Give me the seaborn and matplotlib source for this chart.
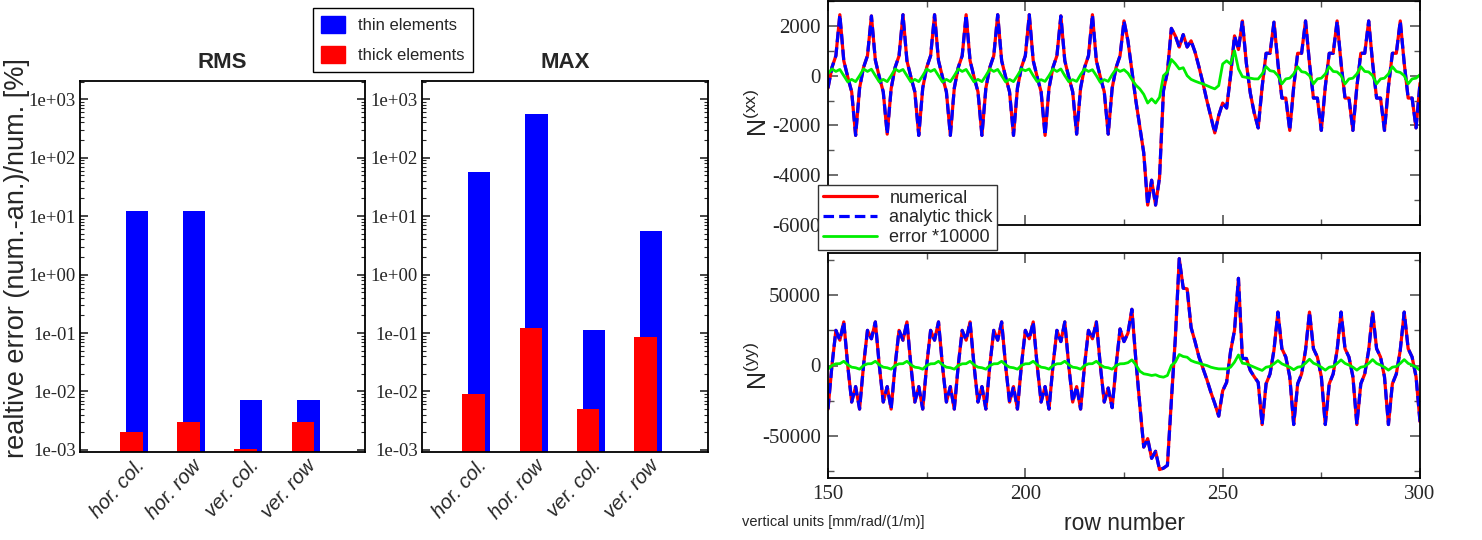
import numpy as np
import pandas as pd
import matplotlib
matplotlib.use("Agg")
import matplotlib.pyplot as plt
import matplotlib.ticker as mticker
import matplotlib.transforms as mtransforms
from matplotlib.lines import Line2D
from matplotlib.patches import Patch
import seaborn as sns

# ---- relative error of the two element models (percent) ----
cases = ["hor. col.", "hor. row", "ver. col.", "ver. row"]
rms_thin = [12.2, 12.2, 0.0072, 0.0072]
rms_thick = [0.00205, 0.00303, 0.00104, 0.00303]
max_thin = [55.7, 547.0, 0.112, 5.6]
max_thick = [0.0091, 0.122, 0.0051, 0.0865]

# ---- row-wise response, rows 150..300 ----
rows = list(range(150, 301))

nxx_numerical = [
    -500, 330, 800, 2450, 600, -50, -650, -2400,
    -500, 330, 800, 2400, 620, -50, -650, -2350,
    -520, 330, 800, 2450, 600, -50, -650, -2400,
    -500, 330, 800, 2450, 600, -50, -650, -2400,
    -500, 330, 800, 2450, 600, -50, -650, -2400,
    -500, 330, 800, 2450, 600, -50, -650, -2400,
    -500, 330, 800, 2450, 600, -50, -650, -2400,
    -500, 330, 800, 2400, 600, -50, -650, -2350,
    -500, 330, 800, 2450, 600, -50, -650, -2350,
    -500, 330, 800, 2200, 1400, 200, -1000, -2050,
    -3100, -5200, -4200, -5200, -4100, -600, 150, 1900,
    1600, 1150, 1650, 1150, 1400, 950, 350, -300,
    -1000, -1650, -2300, -1600, -1100, -1300, 0, 1600,
    1050, 2200, 500, -700, -1500, -2100, -450, 900,
    900, 2150, 500, -900, -900, -2200, -450, 900,
    900, 2200, 500, -900, -900, -2200, -450, 900,
    900, 2200, 500, -900, -900, -2200, -450, 900,
    900, 2200, 500, -900, -900, -2200, -450, 900,
    900, 2200, 500, -900, -900, -2100, -300,
]

# (numerical - analytic) * 10000
nxx_error = [
    80, 270, 170, 250, 0, -250, -150, -240,
    0, 270, 170, 260, 0, -250, -150, -240,
    0, 270, 170, 250, 0, -250, -150, -240,
    0, 270, 170, 250, 0, -250, -150, -240,
    0, 270, 170, 250, 0, -250, -150, -240,
    0, 270, 170, 250, 0, -250, -150, -240,
    0, 270, 200, 270, 0, -240, -160, -230,
    0, 270, 170, 270, 0, -240, -160, -230,
    40, 270, 170, 240, 0, -270, -160, -230,
    40, 270, 170, 240, 100, -150, -380, -530,
    -750, -1100, -930, -1100, -870, 0, 150, 650,
    480, 270, 320, 0, -150, -220, -280, -330,
    -400, -470, -530, -400, 470, 600, 470, 1000,
    270, -40, -70, -100, -130, -130, 70, 360,
    200, 170, 0, -330, -130, -100, 70, 360,
    160, 130, 0, -330, -130, -100, 70, 360,
    170, 150, 0, -330, -130, -100, 70, 360,
    170, 150, 0, -330, -130, -100, 70, 360,
    170, 130, 0, -330, -130, -100, 40,
]

nyy_numerical = [
    -31000, 0, 25000, 18000, 31000, 0, -26000, -15000,
    -31000, 0, 25000, 19000, 31000, 0, -26000, -15000,
    -31000, 0, 25000, 18000, 31000, 0, -26000, -15000,
    -31000, 0, 25000, 18000, 31000, 0, -26000, -15000,
    -31000, 0, 25000, 18000, 31000, 0, -26000, -15000,
    -31000, 0, 25000, 18000, 31000, 0, -26000, -15000,
    -31000, 0, 25000, 19000, 31000, 0, -26000, -15000,
    -31000, 0, 25000, 17000, 31000, 0, -26000, -15000,
    -31000, 0, 25000, 19000, 31000, 0, -26000, -16000,
    -30000, 0, 26000, 17000, 23000, 40000, 4000, -28000,
    -58000, -52000, -66000, -61000, -74000, -73000, -71000, -25000,
    19000, 76000, 55000, 54500, 27000, 17000, 6000, -2000,
    -10000, -19000, -27000, -36000, -18000, -12000, 10000, 25000,
    62000, 5000, 5000, -3500, -8000, -12000, -42000, -13000,
    -6000, 11000, 38000, 12000, 6000, -8000, -42000, -13000,
    -6000, 11000, 38000, 12000, 6000, -8000, -42000, -13000,
    -6000, 11000, 38000, 12000, 6000, -8000, -42000, -13000,
    -6000, 11000, 38000, 12000, 6000, -8000, -42000, -13000,
    -6000, 11000, 38000, 12000, 6000, -8000, -40000,
]

nyy_error = [
    -2600, 0, 1200, 1300, 3000, 500, -1200, -1600,
    -2600, 0, 1200, 1300, 3000, 500, -1200, -1600,
    -2600, 0, 1200, 1300, 3000, 500, -1200, -1600,
    -2600, 0, 1200, 1300, 3000, 500, -1200, -1600,
    -2600, 0, 1200, 1300, 3000, 500, -1200, -1600,
    -2600, 0, 1200, 1300, 3000, 500, -1200, -1600,
    -2600, 0, 1200, 1300, 3000, 500, -1200, -1600,
    -2600, 0, 1200, 1300, 3000, 500, -1200, -1600,
    -2600, 0, 1200, 1300, 3000, 500, -1200, -1600,
    -2600, 0, 1200, 1300, 2000, 4000, 500, -4000,
    -5900, -6400, -7100, -6600, -7800, -8300, -7100, 0,
    2400, 7800, 6400, 5900, 3500, 2400, 1650, 700,
    0, -1200, -1900, -2400, -2400, -2400, -1200, 2400,
    7500, 1650, 1200, 0, -1200, -2400, -3500, -1200,
    -700, 1200, 3500, 1200, 0, -1200, -3000, -1200,
    -700, 1650, 4500, 1650, 500, -1200, -3300, -1200,
    -700, 1500, 4000, 1500, 300, -1200, -3300, -1200,
    -700, 1500, 4200, 1500, 300, -1200, -3300, -1200,
    -700, 1500, 4200, 1500, 300, -1200, -3300,
]

ERROR_SCALE = 10000.0
# analytic solution recovered from numerical result and the scaled error
nxx_analytic = [n - e / ERROR_SCALE for n, e in zip(nxx_numerical, nxx_error)]
nyy_analytic = [n - e / ERROR_SCALE for n, e in zip(nyy_numerical, nyy_error)]

# ---- styling ----
sns.set_theme(style="ticks")
plt.rcParams["font.family"] = ["Liberation Sans", "DejaVu Sans"]
plt.rcParams["axes.unicode_minus"] = False
plt.rcParams["axes.linewidth"] = 1.3
plt.rcParams["axes.edgecolor"] = "black"
plt.rcParams["mathtext.fontset"] = "custom"
plt.rcParams["mathtext.rm"] = "Liberation Sans"
plt.rcParams["mathtext.it"] = "Liberation Sans"

SERIF = "Liberation Serif"
BLUE, RED, GREEN = "#0000ff", "#ff0000", "#00ee00"

W, H = 1482, 540
fig = plt.figure(figsize=(W / 100, H / 100), dpi=100)


def axes_px(left, top, right, bottom):
    return fig.add_axes([left / W, 1 - bottom / H, (right - left) / W, (bottom - top) / H])


# ---- bar panels ----
ax_rms = axes_px(80, 81, 365, 452)
ax_max = axes_px(422, 81, 708, 452)

decades = [1e-3, 1e-2, 1e-1, 1e0, 1e1, 1e2, 1e3]
for ax, thin, thick, title in ((ax_rms, rms_thin, rms_thick, "RMS"),
                               (ax_max, max_thin, max_thick, "MAX")):
    sns.barplot(x=cases, y=thin, color=BLUE, saturation=1, width=0.39,
                errorbar=None, linewidth=0, ax=ax)
    n_thin = len(ax.patches)
    sns.barplot(x=cases, y=thick, color=RED, saturation=1, width=0.39,
                errorbar=None, linewidth=0, ax=ax)
    for i, patch in enumerate(ax.patches):
        patch.set_x(patch.get_x() + (0.05 if i < n_thin else -0.05))
    ax.set_yscale("log")
    ax.set_ylim(10 ** -3.035, 10 ** 3.31)
    ax.set_xlim(-0.95, 4.04)
    ax.set_yticks(decades, labels=[f"{d:.0e}" for d in decades],
                  fontfamily=SERIF, fontsize=13.5)
    ax.yaxis.set_minor_locator(mticker.LogLocator(base=10, subs=np.arange(2, 10), numticks=20))
    ax.yaxis.set_minor_formatter(mticker.NullFormatter())
    ax.tick_params(axis="y", which="both", direction="in", left=True, right=True, pad=3)
    ax.tick_params(axis="y", which="major", length=6, width=1.2)
    ax.tick_params(axis="y", which="minor", length=3, width=0.8)
    ax.set_xticks(range(len(cases)))
    ax.set_xticklabels(cases, rotation=48, ha="right", va="top",
                       rotation_mode="anchor", fontstyle="italic", fontsize=14.5)
    shift = mtransforms.ScaledTranslation(8 / 100, 0, fig.dpi_scale_trans)
    for lbl in ax.get_xticklabels():
        lbl.set_transform(lbl.get_transform() + shift)
    ax.tick_params(axis="x", length=0, pad=3)
    ax.set_xlabel("")
    ax.set_title(title, fontweight="bold", fontsize=16, pad=9)
    for sp in ax.spines.values():
        sp.set_visible(True)
        sp.set_linewidth(1.3)

fig.text(17 / W, 1 - 258 / H, "realtive error (num.-an.)/num. [%]",
         rotation=90, ha="center", va="center", fontsize=19.5)

fig.legend(handles=[Patch(color=BLUE), Patch(color=RED)],
           labels=["thin elements", "thick elements"],
           loc="upper left", bbox_to_anchor=(313 / W, 1 - 8 / H),
           borderaxespad=0, fontsize=12, frameon=True, fancybox=False,
           edgecolor="black", framealpha=1, handlelength=1.4, handleheight=1.2,
           handletextpad=0.8, labelspacing=0.75, borderpad=0.5)

# ---- line panels ----
ax_xx = axes_px(828, 1, 1420, 225)
ax_yy = axes_px(828, 253, 1420, 478)

panels = (
    (ax_xx, nxx_numerical, nxx_analytic, nxx_error, r"N$^{\mathrm{(xx)}}$",
     (-6000, 3000), [-6000, -4000, -2000, 0, 2000], 1000),
    (ax_yy, nyy_numerical, nyy_analytic, nyy_error, r"N$^{\mathrm{(yy)}}$",
     (-80000, 80000), [-50000, 0, 50000], 25000),
)
for ax, num, ana, err, ylab, ylim, yticks, minor in panels:
    sns.lineplot(x=rows, y=num, color=RED, linewidth=2.3, estimator=None, ax=ax)
    sns.lineplot(x=rows, y=ana, color=BLUE, linewidth=2.3, linestyle=(0, (3.3, 1.6)),
                 estimator=None, ax=ax)
    sns.lineplot(x=rows, y=err, color=GREEN, linewidth=2.0, estimator=None, ax=ax)
    ax.set_xlim(150, 300)
    ax.set_ylim(*ylim)
    ax.set_yticks(yticks, labels=[f"{v:d}" for v in yticks], fontfamily=SERIF, fontsize=15)
    ax.set_xticks([150, 200, 250, 300], labels=["150", "200", "250", "300"],
                  fontfamily=SERIF, fontsize=15)
    ax.xaxis.set_minor_locator(mticker.MultipleLocator(25))
    ax.yaxis.set_minor_locator(mticker.MultipleLocator(minor))
    ax.tick_params(which="both", direction="in", top=True, right=True, color="#555555")
    ax.tick_params(which="major", length=7, width=1.2, pad=5)
    ax.tick_params(which="minor", length=4, width=1.0)
    ax.set_ylabel(ylab, fontsize=18)
    ax.yaxis.set_label_coords(-0.095, 0.5)
    for sp in ax.spines.values():
        sp.set_visible(True)
        sp.set_linewidth(1.3)

ax_xx.tick_params(axis="x", labelbottom=False)
ax_xx.set_xlabel("")
ax_yy.set_xlabel("row number", fontsize=16.5)
ax_yy.xaxis.set_label_coords(0.5, -0.2)
ax_yy.xaxis.label.set_va("center")

fig.text(742 / W, 1 - 522 / H, "vertical units [mm/rad/(1/m)]",
         ha="left", va="center", fontsize=10.5)

fig.legend(handles=[Line2D([], [], color=RED, lw=2.3),
                    Line2D([], [], color=BLUE, lw=2.3, linestyle=(0, (3.3, 1.6))),
                    Line2D([], [], color=GREEN, lw=2.0)],
           labels=["numerical", "analytic thick", "error *10000"],
           loc="upper left", bbox_to_anchor=(818 / W, 1 - 185 / H),
           borderaxespad=0, fontsize=13, frameon=True, fancybox=False,
           edgecolor="#333333", framealpha=1, handlelength=3.0,
           handletextpad=0.7, labelspacing=0.15, borderpad=0.25)

fig.savefig("out.png", dpi=100)
